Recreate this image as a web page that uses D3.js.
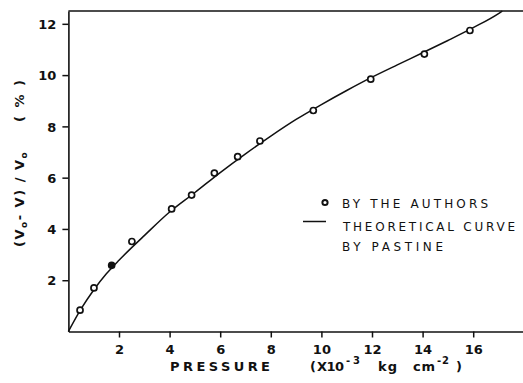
<!DOCTYPE html>
<html>
<head>
<meta charset="utf-8">
<script src="https://cdn.jsdelivr.net/npm/d3@7"></script>
<style>
  body { margin: 0; background: #fff; }
  svg { display: block; }
  text { font-family: "DejaVu Sans", sans-serif; fill: #111; }
</style>
</head>
<body>
<svg id="chart" width="523" height="383"></svg>
<script>
// measured points (by the authors)
const pressure = [0.46, 1.01, 1.71, 2.51, 4.08, 4.87, 5.77, 6.69, 7.57, 9.68, 11.95, 14.07, 15.87];
const volChange = [0.83, 1.70, 2.58, 3.51, 4.78, 5.32, 6.18, 6.82, 7.43, 8.62, 9.84, 10.82, 11.74];
const filled = [false, false, true, false, false, false, false, false, false, false, false, false, false];

// theoretical curve by Pastine
const curveX = [0, 0.5, 1, 1.5, 2, 2.5, 3, 4, 5, 6, 7, 8, 9, 10, 11, 12, 13, 14, 15, 16, 17, 17.15];
const curveY = [0, 0.88, 1.62, 2.25, 2.78, 3.27, 3.74, 4.66, 5.42, 6.2, 6.93, 7.62, 8.27, 8.85, 9.4, 9.92, 10.4, 10.87, 11.35, 11.85, 12.4, 12.5];

const xTicks = [2, 4, 6, 8, 10, 12, 14, 16];
const yTicks = [2, 4, 6, 8, 10, 12];

const svg = d3.select("#chart");

const x = d3.scaleLinear().domain([0, 18]).range([68.4, 523.8]);
const y = d3.scaleLinear().domain([0, 12.5]).range([331.5, 11]);

// axes
const xAxis = svg.append("g")
  .attr("transform", `translate(0,${y(0)})`)
  .call(d3.axisBottom(x).tickValues(xTicks).tickSize(6).tickSizeOuter(0).tickPadding(7).tickFormat(d3.format("d")));

const yAxis = svg.append("g")
  .attr("transform", `translate(${x(0)},0)`)
  .call(d3.axisLeft(y).tickValues(yTicks).tickSize(6).tickSizeOuter(0).tickPadding(6).tickFormat(d3.format("d")));

[xAxis, yAxis].forEach(a => {
  a.select(".domain").attr("stroke", "#111").attr("stroke-width", 1.6);
  a.selectAll(".tick line").attr("stroke", "#111").attr("stroke-width", 1.5);
  a.selectAll(".tick text")
    .style("font-family", "'DejaVu Sans', sans-serif")
    .style("font-size", "13px")
    .style("font-weight", "bold")
    .attr("fill", "#111");
});
yAxis.selectAll(".tick text").attr("dy", "0.36em");

// top frame line
svg.append("line")
  .attr("x1", x(0)).attr("x2", x(18))
  .attr("y1", y(12.5)).attr("y2", y(12.5))
  .attr("stroke", "#111").attr("stroke-width", 1.6);

// theoretical curve
const line = d3.line()
  .x(d => x(d[0]))
  .y(d => y(d[1]))
  .curve(d3.curveMonotoneX);

svg.append("path")
  .datum(d3.zip(curveX, curveY))
  .attr("d", line)
  .attr("fill", "none")
  .attr("stroke", "#111")
  .attr("stroke-width", 1.5);

// measured points
svg.selectAll("circle.pt")
  .data(d3.range(pressure.length))
  .enter()
  .append("circle")
  .attr("class", "pt")
  .attr("cx", i => x(pressure[i]))
  .attr("cy", i => y(volChange[i]))
  .attr("r", 3)
  .attr("fill", i => filled[i] ? "#111" : "#fff")
  .attr("stroke", "#111")
  .attr("stroke-width", 1.7);

// legend
const legend = svg.append("g");
legend.append("circle")
  .attr("cx", 325).attr("cy", 202.5).attr("r", 2.6)
  .attr("fill", "#fff").attr("stroke", "#111").attr("stroke-width", 2);
legend.append("line")
  .attr("x1", 303).attr("x2", 326).attr("y1", 221.5).attr("y2", 221.5)
  .attr("stroke", "#111").attr("stroke-width", 1.5);

const legendText = [
  { t: "BY THE AUTHORS", x: 342, y: 207.5, w: 146 },
  { t: "THEORETICAL CURVE", x: 343, y: 231, w: 172 },
  { t: "BY PASTINE", x: 342, y: 251, w: 101 }
];
legend.selectAll("text")
  .data(legendText)
  .enter()
  .append("text")
  .attr("x", d => d.x)
  .attr("y", d => d.y)
  .attr("textLength", d => d.w)
  .attr("lengthAdjust", "spacing")
  .style("font-size", "12px")
  .text(d => d.t);

// x axis title
svg.append("text")
  .attr("x", 170).attr("y", 371)
  .attr("textLength", 100).attr("lengthAdjust", "spacing")
  .style("font-size", "13px").style("font-weight", "bold")
  .text("PRESSURE");

// unit pieces placed one by one so the spacing matches the lettering
const unitParts = [
  { t: "(", x: 310, w: 5, sup: false },
  { t: "X10", x: 317, w: 27, sup: false },
  { t: "-3", x: 346, w: 14, sup: true },
  { t: "kg", x: 378, w: 19, sup: false },
  { t: "cm", x: 413, w: 22, sup: false },
  { t: "-2", x: 437, w: 12, sup: true },
  { t: ")", x: 456, w: 5, sup: false }
];
svg.append("g").selectAll("text")
  .data(unitParts)
  .enter()
  .append("text")
  .attr("x", d => d.x)
  .attr("y", d => d.sup ? 364 : 371)
  .attr("textLength", d => d.w)
  .attr("lengthAdjust", "spacing")
  .style("font-size", d => d.sup ? "10px" : "13px")
  .style("font-weight", "bold")
  .text(d => d.t);

// y axis title
const yTitle = svg.append("text")
  .attr("transform", "translate(24,247) rotate(-90)")
  .style("font-size", "13px").style("font-weight", "bold")
  .style("letter-spacing", "1.5px");
yTitle.append("tspan").text("(V");
yTitle.append("tspan").attr("dy", 3).style("font-size", "9px").text("o");
yTitle.append("tspan").attr("dy", -3).text("- V) / V");
yTitle.append("tspan").attr("dy", 3).style("font-size", "9px").text("o");

svg.append("text")
  .attr("transform", "translate(24,122) rotate(-90)")
  .attr("textLength", 42).attr("lengthAdjust", "spacing")
  .style("font-size", "13px").style("font-weight", "bold")
  .text("( % )");
</script>
</body>
</html>
